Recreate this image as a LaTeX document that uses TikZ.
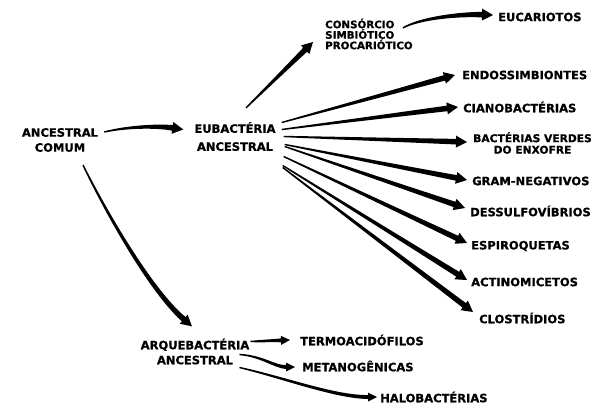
\documentclass[tikz,border=0pt]{standalone}
\usepackage{fontspec}
\setmainfont{DejaVu Sans}[BoldFeatures={FakeBold=0.8}]
\usetikzlibrary{calc}

\begin{document}
\begin{tikzpicture}[x=1pt, y=-1pt,
    rotulo/.style={font=\bfseries\fontsize{11.5}{15}\selectfont, inner sep=3pt, align=center},
    rotuloEsq/.style={rotulo, anchor=west, align=left}]
    % Parâmetros das setas (em pt)
    \def\ga{0.7}  % meia largura inicial
    \def\gc{1.4}  % meia largura no 1o controle
    \def\gd{2.1}  % meia largura no 2o controle
    \def\gb{2.8}  % meia largura final
    \def\pc{6}    % meia largura da ponta
    \def\pl{11}   % comprimento da ponta

    % seta afilada: origem, controle 1, controle 2, destino
    \def\setac#1#2#3#4{%
      \path (#1) coordinate (s) (#2) coordinate (c1) (#3) coordinate (c2) (#4) coordinate (t);
      \path ($(t)!\pl pt!(c2)$) coordinate (b);
      \fill ($(s)!\ga pt!90:(c1)$)
        .. controls ($(c1)!\gc pt!90:(c2)$) and ($(c2)!\gd pt!-90:(c1)$) .. ($(b)!\gb pt!-90:(c2)$)
        -- ($(b)!\pc pt!-90:(c2)$) -- (t) -- ($(b)!\pc pt!90:(c2)$) -- ($(b)!\gb pt!90:(c2)$)
        .. controls ($(c2)!\gd pt!90:(c1)$) and ($(c1)!\gc pt!-90:(c2)$) .. ($(s)!\ga pt!-90:(c1)$)
        -- cycle;}
    % seta reta
    \def\seta#1#2{%
      \path (#1) coordinate (s0) (#2) coordinate (t0);
      \setac{s0}{$(s0)!0.33!(t0)$}{$(s0)!0.67!(t0)$}{t0}}

    \useasboundingbox (0,0) rectangle (596,405);

    % 1. ANCESTRAIS
    \node[rotulo] (ac) at (60,140) {ANCESTRAL\\COMUM};
    \node[rotulo, font=\bfseries\fontsize{11.5}{18}\selectfont] (eu) at (235,136.5) {EUBACTÉRIA\\ANCESTRAL};
    \node[rotulo] (arq) at (195,351.5) {ARQUEBACTÉRIA\\ANCESTRAL};

    % 2. RAMO DAS EUBACTÉRIAS
    \node[rotuloEsq, font=\bfseries\fontsize{10.3}{10.5}\selectfont] (cons) at (322,34) {CONSÓRCIO\\SIMBIÓTICO\\PROCARIÓTICO};
    \node[rotuloEsq] (euc) at (495,17) {EUCARIOTOS};
    \node[rotuloEsq] (endo) at (459,75) {ENDOSSIMBIONTES};
    \node[rotuloEsq] (ciano) at (460,107) {CIANOBACTÉRIAS};
    \node[rotulo, font=\bfseries\fontsize{10.7}{11.5}\selectfont] (verdes) at (532.5,143) {BACTÉRIAS VERDES\\DO ENXOFRE};
    \node[rotuloEsq] (gram) at (469,181) {GRAM-NEGATIVOS};
    \node[rotuloEsq] (dess) at (467,211) {DESSULFOVÍBRIOS};
    \node[rotuloEsq] (espi) at (468,246) {ESPIROQUETAS};
    \node[rotuloEsq] (actino) at (468,282) {ACTINOMICETOS};
    \node[rotuloEsq] (clos) at (476,318) {CLOSTRÍDIOS};

    % 3. RAMO DAS ARQUEBACTÉRIAS
    \node[rotuloEsq] (termo) at (297,340) {TERMOACIDÓFILOS};
    \node[rotuloEsq] (metano) at (299,366) {METANOGÊNICAS};
    \node[rotuloEsq] (halo) at (377,397) {HALOBACTÉRIAS};

    % 4. SETAS
    \setac{$(ac.east)+(3,-8)$}{130,126}{160,126}{$(eu.west)+(-8,-7)$}
    \setac{$(ac.south)+(23,10)$}{105,210}{150,290}{$(arq.north)+(-3,-9)$}

    \seta{$(eu.north)+(11,-11)$}{$(cons.west)+(-9,8)$}
    \setac{$(cons.east)+(-13,-6)$}{420,18}{460,14}{$(euc.west)+(-2,-2)$}
    \seta{$(eu.east)+(3,-14)$}{$(endo.west)+(-4,0)$}
    \seta{$(eu.east)+(3,-7)$}{$(ciano.west)+(-2,0)$}
    \seta{$(eu.east)+(5,0)$}{$(verdes.west)+(-3,-1)$}
    \seta{$(eu.east)+(6,8)$}{$(gram.west)+(-2,-1)$}
    \seta{$(eu.east)+(6,10)$}{$(dess.west)+(-2,-3)$}
    \seta{$(eu.east)+(5,20)$}{$(espi.west)+(-1,-3)$}
    \seta{$(eu.east)+(4,29)$}{$(actino.west)+(-1,-2)$}
    \seta{$(eu.east)+(4,31)$}{$(clos.west)+(-3,-6)$}

    % setas menores das arquebactérias
    \def\gb{2.0}\def\gd{1.5}\def\pc{4.5}\def\pl{9}
    \seta{$(arq.east)+(-2,-10)$}{$(termo.west)+(-7,0)$}
    \setac{$(arq.east)+(-13,3)$}{262,356}{275,367}{$(metano.west)+(-4,1)$}
    \setac{$(arq.east)+(-13,16)$}{285,378}{335,397}{$(halo.west)+(0,0)$}
\end{tikzpicture}
\end{document}
